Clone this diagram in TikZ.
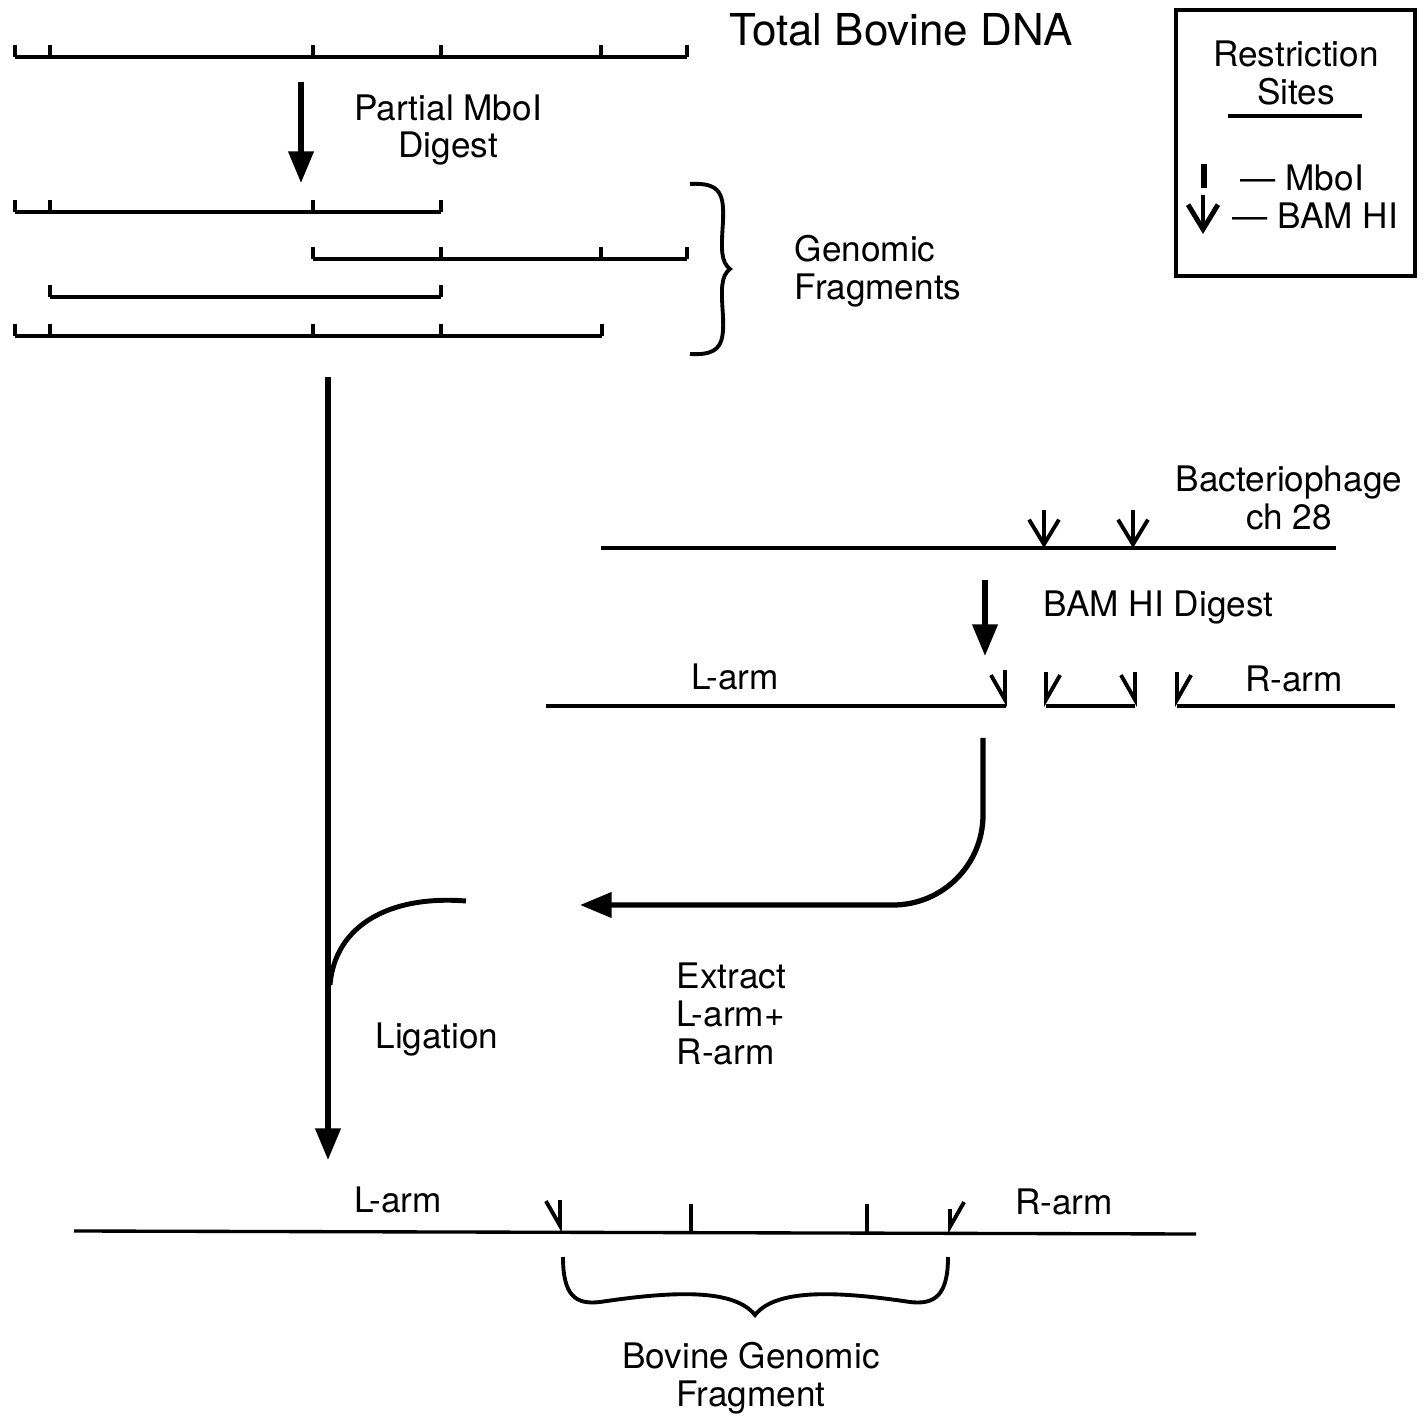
\documentclass[tikz,border=0pt]{standalone}
\usepackage{fontspec}
\setmainfont{TeX Gyre Heros}
\usetikzlibrary{arrows.meta}

\tikzset{
  dna/.style={line width=0.95pt},
  lbl/.style={font=\fontsize{10}{10.7}\selectfont, align=center, inner sep=0pt},
  flow/.style={line width=1.5pt,-{Triangle[length=9pt,width=7pt]}},
  bam/.style={line width=1.1pt,-{Straight Barb[length=7pt,width=8.5pt]}},
  bamleft/.style={line width=1.1pt,-{Straight Barb[left,length=7pt,width=8pt]}},
  bamright/.style={line width=1.1pt,-{Straight Barb[right,length=7pt,width=8pt]}},
}

\begin{document}
\begin{tikzpicture}[x=0.01cm,y=-0.01cm]
\useasboundingbox (0,0) rectangle (1424,1416);

% total DNA and the partial digest fragments
\foreach \y/\a/\b/\ticks in {57/15/687/{15,50,313,441,601,687},
    212/15/441/{15,50,313,441}, 259/313/687/{313,441,601,687},
    297/50/441/{50,441}, 336/15/602/{15,50,313,441,602}} {
  \draw[dna] (\a,\y) -- (\b,\y);
  \foreach \x in \ticks \draw[dna] (\x,\y) -- ++(0,-12);
}
\node[lbl,font=\fontsize{12.5}{14}\selectfont] (total) at (901,30) {Total Bovine DNA};
\draw[flow] (301,82) -- (301,183);
\node[lbl] (partial) at (448,130) {Partial MboI\\Digest};

% brace round the fragments
\draw[dna,line width=1.1pt] (690,184) .. controls (722,182) and (724,196) .. (723,222)
  .. controls (721,250) and (721,262) .. (730,269)
  .. controls (721,276) and (721,288) .. (723,316)
  .. controls (724,342) and (722,356) .. (690,354);
\node[lbl,align=left,anchor=west] (genomic) at (794,271) {Genomic\\Fragments};

% legend
\draw[line width=1.2pt] (1176,10) rectangle (1415,276);
\node[lbl] (sites) at (1296,73) {Restriction\\Sites};
\draw[line width=1.2pt] (1228,116) -- (1362,116);
\draw[line width=1.6pt] (1204,164) -- (1204,188);
\node[lbl,anchor=west] (keymbo) at (1240,178) {— MboI};
\draw[bam,line width=1.4pt] (1203,195) -- (1203,234);
\node[lbl,anchor=west] (keybam) at (1232,216) {— BAM HI};

% bacteriophage
\node[lbl] (phage) at (1289,498) {Bacteriophage\\ch 28};
\draw[dna] (601,548) -- (1336,548);
\draw[bam] (1044,510) -- (1044,548);
\draw[bam] (1133,510) -- (1133,548);
\draw[flow] (985,580) -- (985,656);
\node[lbl,anchor=west] (bamdig) at (1043,608) {BAM HI Digest};

% digested arms
\draw[dna] (546,706) -- (1006,706);
\draw[bamright] (1005,670) -- (1005,707);
\draw[dna] (1046,706) -- (1135,706);
\draw[bamleft] (1046,672) -- (1046,707);
\draw[bamright] (1135,672) -- (1135,707);
\draw[dna] (1177,706) -- (1395,706);
\draw[bamleft] (1177,672) -- (1177,707);
\node[lbl] (larm) at (735,677) {L-arm};
\node[lbl] (rarm) at (1294,679) {R-arm};

% extract arms
\draw[flow,rounded corners=0.9cm] (983,738) |- (580,905);
\node[lbl,align=left,anchor=west] (extract) at (676,1014) {Extract\\L-arm+\\R-arm};

% ligation
\draw[flow] (328,377) -- (328,1160);
\draw[line width=1.4pt] (466,901) .. controls (390,895) and (335,925) .. (330,985);
\node[lbl] (ligation) at (437,1040) {Ligation};

% recombinant
\draw[dna] (74,1231) -- (1196,1234);
\draw[bamright] (560,1200) -- (560,1233);
\draw[dna] (691,1204) -- (691,1232);
\draw[dna] (867,1204) -- (867,1233);
\draw[bamleft] (950,1209) -- (950,1234);
\node[lbl] (larmb) at (398,1200) {L-arm};
\node[lbl] (rarmb) at (1064,1202) {R-arm};
\draw[dna,line width=1.1pt] (563,1257) .. controls (563,1295) and (575,1305) .. (600,1302)
  .. controls (680,1290) and (735,1290) .. (755,1315)
  .. controls (775,1290) and (830,1290) .. (910,1302)
  .. controls (935,1305) and (948,1295) .. (948,1257);
\node[lbl] (bovine) at (751,1378) {Bovine Genomic\\Fragment};
\end{tikzpicture}
\end{document}
